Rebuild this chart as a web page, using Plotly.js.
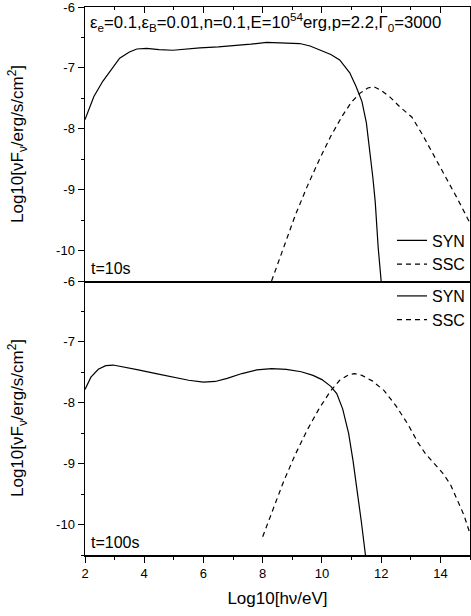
<!DOCTYPE html>
<html>
<head>
<meta charset="utf-8">
<script src="https://cdn.plot.ly/plotly-3.0.1.min.js"></script>
<style>
  html, body { margin: 0; padding: 0; background: #fff; }
  #chart { width: 471px; height: 616px; }
</style>
</head>
<body>
<div id="chart"></div>
<script>
// Spectral energy distributions, log10(hν/eV) vs log10(νFν)
// t = 10 s : synchrotron
const synX10 = [2.0, 2.3, 2.6, 2.85, 3.17, 3.5, 3.75, 4.08, 4.5, 4.97, 5.4, 5.88, 6.5, 7.0, 7.6, 8.13, 8.7, 9.25, 9.6, 9.93, 10.3, 10.6, 10.94, 11.15, 11.35, 11.5, 11.62, 11.72, 11.8, 11.9, 12.0];
const synY10 = [-7.85, -7.47, -7.22, -7.05, -6.84, -6.74, -6.69, -6.68, -6.70, -6.71, -6.69, -6.67, -6.655, -6.64, -6.61, -6.58, -6.585, -6.6, -6.64, -6.70, -6.78, -6.87, -7.08, -7.3, -7.55, -7.9, -8.35, -8.8, -9.2, -9.95, -10.5];
// t = 10 s : synchrotron self-Compton
const sscX10 = [8.3, 8.7, 9.1, 9.5, 9.9, 10.3, 10.7, 11.0, 11.3, 11.55, 11.75, 11.97, 12.3, 12.63, 13.04, 13.4, 13.8, 14.2, 14.6, 15.0];
const sscY10 = [-10.5, -9.95, -9.42, -8.95, -8.52, -8.12, -7.78, -7.56, -7.41, -7.33, -7.31, -7.36, -7.48, -7.64, -7.81, -8.1, -8.45, -8.8, -9.17, -9.55];
// t = 100 s : synchrotron
const synX100 = [2.0, 2.2, 2.45, 2.7, 2.95, 3.3, 3.8, 4.4, 5.0, 5.5, 6.0, 6.4, 6.8, 7.3, 7.8, 8.3, 8.8, 9.3, 9.7, 10.0, 10.3, 10.5, 10.7, 10.9, 11.05, 11.2, 11.33, 11.47];
const synY100 = [-7.78, -7.58, -7.45, -7.39, -7.38, -7.41, -7.46, -7.52, -7.58, -7.63, -7.66, -7.65, -7.6, -7.52, -7.46, -7.44, -7.45, -7.49, -7.55, -7.62, -7.73, -7.85, -8.1, -8.5, -8.95, -9.45, -9.95, -10.5];
// t = 100 s : synchrotron self-Compton
const sscX100 = [8.0, 8.3, 8.7, 9.1, 9.5, 9.9, 10.3, 10.6, 10.9, 11.1, 11.35, 11.7, 12.1, 12.5, 12.9, 13.25, 13.5, 13.76, 14.07, 14.34, 14.6, 14.8, 14.94, 15.0];
const sscY100 = [-10.2, -9.8, -9.3, -8.85, -8.45, -8.1, -7.8, -7.63, -7.54, -7.52, -7.55, -7.64, -7.8, -8.05, -8.35, -8.66, -8.84, -8.98, -9.15, -9.34, -9.62, -9.85, -10.06, -10.15];

const xRange = [2, 15];
const yRange = [-10.5, -6];
const yTickVals = [-10, -9, -8, -7, -6];
const yTickText = ['-10', '-9', '-8', '-7', '-6'];
const xTickVals = [2, 4, 6, 8, 10, 12, 14];

const FONT = 'Liberation Sans, Arial, sans-serif';
const solid = { color: '#000', width: 1.2 };
const dashed = { color: '#000', width: 1.2, dash: '5px,4px' };

const traces = [
  { x: synX10, y: synY10, xaxis: 'x', yaxis: 'y', mode: 'lines', name: 'SYN', line: solid, legend: 'legend' },
  { x: sscX10, y: sscY10, xaxis: 'x', yaxis: 'y', mode: 'lines', name: 'SSC', line: dashed, legend: 'legend' },
  { x: synX100, y: synY100, xaxis: 'x2', yaxis: 'y2', mode: 'lines', name: 'SYN', line: solid, legend: 'legend2' },
  { x: sscX100, y: sscY100, xaxis: 'x2', yaxis: 'y2', mode: 'lines', name: 'SSC', line: dashed, legend: 'legend2' }
];

const axLine = { showline: true, linecolor: '#000', linewidth: 1.5, zeroline: false, showgrid: false };
const tickFont = { family: FONT, size: 13, color: '#000' };

const xMinor = (dir) => ({ dtick: 1, ticklen: 3, ticks: dir, tickcolor: '#000', tickwidth: 1 });
const yMinor = (dir) => ({ dtick: 0.5, ticklen: 3, ticks: dir, tickcolor: '#000', tickwidth: 1 });

const layout = {
  width: 471, height: 616,
  margin: { l: 85, r: 1, t: 7, b: 61 },
  paper_bgcolor: '#fff', plot_bgcolor: '#fff',
  font: { family: FONT, color: '#000' },
  // upper panel: ticks along the top edge point into the plot; its mirrored line is the shared middle edge
  xaxis: Object.assign({}, axLine, {
    domain: [0, 1], anchor: 'y', side: 'top', range: xRange, mirror: true,
    tickvals: xTickVals, ticks: 'inside', ticklen: 6, tickwidth: 1, tickcolor: '#000',
    showticklabels: false, minor: xMinor('inside')
  }),
  yaxis: Object.assign({}, axLine, {
    domain: [0.5, 1], anchor: 'x', range: yRange, mirror: true,
    tickvals: yTickVals, ticktext: yTickText, ticks: 'outside', ticklen: 6, tickwidth: 1, tickcolor: '#000',
    tickfont: tickFont, ticklabeloverflow: 'allow', minor: yMinor('outside')
  }),
  // lower panel
  xaxis2: Object.assign({}, axLine, {
    domain: [0, 1], anchor: 'y2', range: xRange, mirror: false,
    tickvals: xTickVals, ticks: 'outside', ticklen: 6, tickwidth: 1, tickcolor: '#000',
    tickfont: tickFont, minor: xMinor('outside'),
    title: { text: 'Log10[hν/eV]', font: { family: FONT, size: 17, color: '#000' }, standoff: 12 }
  }),
  yaxis2: Object.assign({}, axLine, {
    domain: [0, 0.5], anchor: 'x2', range: yRange, mirror: true,
    tickvals: yTickVals, ticktext: yTickText, ticks: 'outside', ticklen: 6, tickwidth: 1, tickcolor: '#000',
    tickfont: tickFont, ticklabeloverflow: 'allow', minor: yMinor('outside')
  }),
  // inward ticks on the shared middle edge of the lower panel
  xaxis3: {
    overlaying: 'x2', anchor: 'y2', side: 'top', range: xRange, showline: false, showgrid: false, zeroline: false,
    tickvals: xTickVals, ticks: 'inside', ticklen: 6, tickwidth: 1, tickcolor: '#000',
    showticklabels: false, minor: xMinor('inside')
  },
  // inward ticks on the right edges
  yaxis3: {
    overlaying: 'y', anchor: 'x', side: 'right', range: yRange, showline: false, showgrid: false, zeroline: false,
    tickvals: yTickVals, ticks: 'inside', ticklen: 6, tickwidth: 1, tickcolor: '#000',
    showticklabels: false, minor: yMinor('inside')
  },
  yaxis4: {
    overlaying: 'y2', anchor: 'x2', side: 'right', range: yRange, showline: false, showgrid: false, zeroline: false,
    tickvals: yTickVals, ticks: 'inside', ticklen: 6, tickwidth: 1, tickcolor: '#000',
    showticklabels: false, minor: yMinor('inside')
  },
  legend: {
    x: 1, xanchor: 'right', y: 0.552, yanchor: 'middle', bgcolor: 'rgba(0,0,0,0)', borderwidth: 0,
    font: { family: FONT, size: 16, color: '#000' }, tracegroupgap: 0
  },
  legend2: {
    x: 1, xanchor: 'right', y: 0.4507, yanchor: 'middle', bgcolor: 'rgba(0,0,0,0)', borderwidth: 0,
    font: { family: FONT, size: 16, color: '#000' }, tracegroupgap: 0
  },
  showlegend: true,
  annotations: [
    {
      xref: 'paper', yref: 'paper', x: 0.008, y: 0.9726, xanchor: 'left', yanchor: 'middle', showarrow: false,
      text: 'ε<sub>e</sub>=0.1,ε<sub>B</sub>=0.01,n=0.1,E=10<sup>54</sup>erg,p=2.2,Γ<sub>0</sub>=3000',
      font: { family: FONT, size: 16.7, color: '#000' }
    },
    {
      xref: 'paper', yref: 'paper', x: 0.01, y: 0.5237, xanchor: 'left', yanchor: 'middle', showarrow: false,
      text: 't=10s', font: { family: FONT, size: 16, color: '#000' }
    },
    {
      xref: 'paper', yref: 'paper', x: 0.01, y: 0.0237, xanchor: 'left', yanchor: 'middle', showarrow: false,
      text: 't=100s', font: { family: FONT, size: 16, color: '#000' }
    },
    {
      xref: 'paper', yref: 'paper', x: 0, xshift: -68, y: 0.75, xanchor: 'center', yanchor: 'middle', showarrow: false,
      textangle: -90, text: 'Log10[νF<sub>ν</sub>/erg/s/cm<sup>2</sup>]', font: { family: FONT, size: 17, color: '#000' }
    },
    {
      xref: 'paper', yref: 'paper', x: 0, xshift: -68, y: 0.25, xanchor: 'center', yanchor: 'middle', showarrow: false,
      textangle: -90, text: 'Log10[νF<sub>ν</sub>/erg/s/cm<sup>2</sup>]', font: { family: FONT, size: 17, color: '#000' }
    }
  ]
};

Plotly.newPlot('chart', traces, layout, { staticPlot: true, displayModeBar: false });
</script>
</body>
</html>
